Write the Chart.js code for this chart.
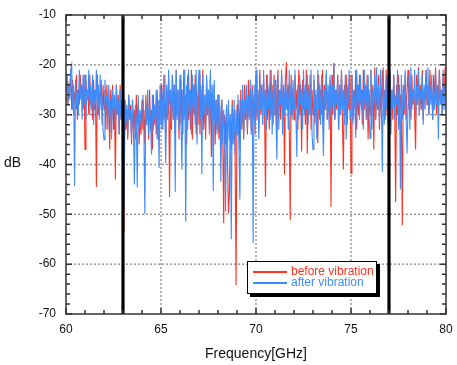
<!DOCTYPE html>
<html><head><meta charset="utf-8">
<script src="https://cdn.jsdelivr.net/npm/chart.js@4/dist/chart.umd.min.js"></script>
<style>
html,body{margin:0;padding:0;background:#fff;}
#wrap{position:relative;width:457px;height:365px;font-family:"Liberation Sans",Arial,Helvetica,sans-serif;}
canvas{position:absolute;left:0;top:0;}
.lab{position:absolute;font-size:14px;color:#111;white-space:nowrap;}
#legend{position:absolute;box-sizing:border-box;width:130px;height:33px;background:#fff;border:1px solid #000;box-shadow:3px 3px 0 #000;font-size:12px;padding:4px 0 0 5px;line-height:11px;}
#legend .row{display:flex;align-items:center;height:11px;}
#legend .sw{display:inline-block;width:34px;height:2px;margin-right:4px;}
</style></head>
<body>
<div id="wrap">
<canvas id="c" width="457" height="365"></canvas>
<div class="lab" id="ylab">dB</div>
<div class="lab" id="xlab">Frequency[GHz]</div>
<div id="legend"></div>
</div>
<script>
// ---- data ----
const freqStartGHz = 60;
const freqStepGHz = 0.05;
const seriesNames = ["before vibration", "after vibration"];
const markerFreqs = [63, 77];
const xTicks = [60, 65, 70, 75, 80];
const yTicks = [-70, -60, -50, -40, -30, -20, -10];

// dB, one row per GHz (20 samples)
const beforeVibration = [
 -27,-22,-28,-24,-25,-21,-29,-23,-30,-26, -27,-22,-31,-25,-28,-22,-26,-24,-29,-22,
 -37,-23,-27,-25,-30,-22,-28,-26,-31,-23, -29,-25,-44.5,-22,-30,-26,-27,-23,-32,-24,
 -29,-25,-33,-24,-30,-27,-37,-25,-31,-24, -33,-27,-43,-24,-30,-26,-34,-24,-31,-27,
 -30,-53.6,-27,-33,-29,-35,-26,-31,-28,-36, -27,-33,-29,-35,-26,-32,-28,-36,-30,-34,
 -27,-33,-29,-36,-26,-31,-28,-35,-25,-33, -29,-37,-26,-32,-28,-34,-25,-35,-27,-31,
 -24,-33,-26,-31,-22,-35,-25,-30,-23,-46.5, -26,-33,-22,-31,-24,-34,-21,-30,-25,-35,
 -23,-32,-25,-34,-21,-30,-26,-36,-22,-31, -25,-33,-21,-35,-24,-30,-22,-34,-26,-32,
 -22,-34,-25,-31,-21,-33,-26,-35,-23,-30, -25,-33,-22,-38.5,-26,-31,-24,-36,-27,-33,
 -26,-35,-29,-38,-27,-34,-51.8,-30,-36,-28, -39,-49.8,-45.8,-30,-37,-27,-35,-29,-38,-64.2,
 -28,-34,-27,-37,-25,-33,-27,-35,-24,-31, -26,-34,-23,-30,-25,-33,-24,-31,-26,-34,
 -22,-31,-25,-33,-21,-30,-24,-32,-23,-29, -46.5,-22,-31,-25,-33,-21,-30,-24,-32,-22,
 -30,-24,-33,-21,-29,-25,-31,-22,-30,-25, -42,-23,-19.5,-29,-24,-32,-51.2,-22,-30,-25,
 -31,-22,-29,-25,-33,-21,-30,-24,-37.4,-23, -29,-25,-32,-21,-37.8,-24,-30,-22,-33,-25,
 -30,-23,-32,-26,-29,-35.7,-22,-31,-25,-30, -21,-33,-24,-29,-22,-31,-26,-30,-23,-48.5,
 -22,-30,-19.6,-31,-25,-29,-22,-33,-24,-30, -21,-31,-41,-24,-30,-22,-32,-25,-29,-22,
 -41.8,-22,-31,-25,-29,-21,-33,-24,-30,-22, -28,-25,-32,-21,-29,-24,-31,-22,-35,-25,
 -30,-21,-29,-24,-37,-20.5,-31,-25,-29,-22, -33,-24,-30,-21,-28,-25,-31,-21,-30,-24,
 -33,-22,-29,-25,-31,-22,-28,-47.5,-24,-30, -22,-32,-26,-29,-52.2,-24,-30,-22,-31,-25,
 -21,-29,-24,-31,-22,-28,-25,-30,-37,-22, -28,-20.5,-30,-24,-29,-21,-31,-25,-27,-21,
 -28,-24,-30,-21,-27,-25,-31,-22,-28,-20.5, -30,-24,-29,-21,-27,-25,-30,-22,-28,-20.5,
 -27
];
const afterVibration = [
 -25,-22,-28,-24,-27,-21,-20,-29,-24,-44.3, -23,-29,-25,-30,-21,-27,-24,-31,-22,-28,
 -22,-31,-25,-27,-21,-30,-24,-29,-22,-32, -25,-28,-21,-30,-24,-31,-22,-29,-26,-33,
 -35,-23,-28,-26,-33,-24,-30,-27,-35,-25, -29,-26,-32,-24,-30,-27,-34,-25,-31,-28,
 -29,-49,-27,-32,-28,-34,-26,-31,-29,-35, -27,-33,-44,-28,-31,-44.6,-26,-33,-29,-32,
 -31,-26,-33,-50,-28,-32,-25,-34,-28,-31, -38,-26,-33,-28,-31,-25,-35,-27,-40.7,-24,
 -32,-25,-33,-22,-30,-39.7,-24,-31,-21,-28, -25,-32,-22,-30,-24,-45.5,-21,-31,-25,-33,
 -22,-30,-41,-25,-31,-21,-51.5,-24,-33,-21, -30,-25,-34,-22,-29,-24,-32,-21,-36,-25,
 -21,-31,-24,-41.9,-22,-30,-26,-33,-22,-29, -25,-34,-21,-31,-24,-45.3,-23,-32,-27,-34,
 -26,-33,-28,-43.5,-27,-36,-29,-34,-49.5,-28, -38,-27,-35,-30,-55,-28,-36,-27,-38,-29,
 -34,-26,-36,-47,-27,-32,-24,-35,-27,-30, -24,-33,-26,-31,-23,-34,-25,-55.8,-24,-32,
 -21,-30,-25,-35,-22,-29,-24,-32,-21,-30, -25,-33,-22,-29,-24,-31,-21,-34,-25,-30,
 -23,-31,-39,-22,-33,-25,-28,-21,-34,-24, -30,-22,-29,-25,-33,-21,-30,-24,-31,-23,
 -29,-21,-30,-38.5,-24,-31,-22,-28,-25,-33, -21,-30,-24,-29,-22,-32,-25,-30,-21,-34,
 -37,-22,-30,-25,-35,-21,-29,-24,-32,-22, -30,-38.3,-25,-29,-21,-31,-24,-33,-22,-30,
 -24,-29,-19.8,-31,-25,-28,-22,-33,-24,-30, -21,-29,-25,-32,-22,-35,-24,-28,-21,-31,
 -29,-22,-32,-25,-28,-34.7,-21,-28,-24,-31, -22,-29,-25,-33,-21,-28,-24,-31,-22,-30,
 -34.7,-21,-33,-25,-28,-22,-31,-20.5,-29,-24, -32,-21,-28,-41.5,-20.5,-32,-25,-29,-22,-31,
 -30,-21,-34,-25,-29,-22,-31,-26,-28,-21, -33,-24,-45,-22,-31,-25,-29,-21,-30,-37.8,
 -28,-22,-33,-20.5,-29,-25,-27,-21,-31,-24, -28,-21,-30,-25,-27,-22,-32,-24,-29,-21,
 -27,-20.5,-30,-24,-28,-22,-31,-25,-29,-21, -28,-24,-35,-21,-28,-25,-30,-21,-29,-24,
 -26
];

// ---- build ----
const RED = '#ff3322', BLUE = '#3f8cff';
const toXY = arr => arr.map((v, i) => ({x: +(freqStartGHz + i * freqStepGHz).toFixed(3), y: v}));
const yMin = yTicks[0], yMax = yTicks[yTicks.length - 1];
const xMin = xTicks[0], xMax = xTicks[xTicks.length - 1];

const frame = {
  id: 'frame',
  beforeDatasetsDraw(chart) {
    const {ctx, chartArea: a, scales: {x, y}} = chart;
    ctx.save();
    ctx.strokeStyle = '#9a9a9a'; ctx.lineWidth = 1.5; ctx.setLineDash([2, 2]);
    xTicks.forEach(t => { if (t > xMin && t < xMax) { const p = x.getPixelForValue(t); ctx.beginPath(); ctx.moveTo(p, a.top); ctx.lineTo(p, a.bottom); ctx.stroke(); } });
    yTicks.forEach(t => { if (t > yMin && t < yMax) { const p = y.getPixelForValue(t); ctx.beginPath(); ctx.moveTo(a.left, p); ctx.lineTo(a.right, p); ctx.stroke(); } });
    ctx.restore();
  },
  afterDraw(chart) {
    const {ctx, chartArea: a, scales: {x, y}} = chart;
    ctx.save();
    ctx.strokeStyle = '#333'; ctx.lineWidth = 1.5; ctx.setLineDash([]);
    for (let t = xMin; t <= xMax; t += 1) {
      const p = x.getPixelForValue(t); const L = (t % 5 === 0) ? 6 : 4;
      ctx.beginPath(); ctx.moveTo(p, a.top); ctx.lineTo(p, a.top + L); ctx.moveTo(p, a.bottom); ctx.lineTo(p, a.bottom - L); ctx.stroke();
    }
    for (let t = yMin; t <= yMax; t += 2) {
      const p = y.getPixelForValue(t); const L = (t % 10 === 0) ? 6 : 4;
      ctx.beginPath(); ctx.moveTo(a.left, p); ctx.lineTo(a.left + L, p); ctx.moveTo(a.right, p); ctx.lineTo(a.right - L, p); ctx.stroke();
    }
    ctx.strokeRect(a.left, a.top, a.right - a.left, a.bottom - a.top);
    ctx.restore();
  }
};

const markerSets = markerFreqs.map(f => ({
  label: 'marker ' + f, data: [{x: f, y: yMin}, {x: f, y: yMax}],
  borderColor: '#000', borderWidth: 3.2, pointRadius: 0, order: 0
}));

const chart = new Chart(document.getElementById('c'), {
  type: 'line',
  data: {
    datasets: [
      {label: seriesNames[0], data: toXY(beforeVibration), borderColor: RED, borderWidth: 1.1, pointRadius: 0, order: 2},
      {label: seriesNames[1], data: toXY(afterVibration), borderColor: BLUE, borderWidth: 1.1, pointRadius: 0, order: 1},
      ...markerSets
    ]
  },
  options: {
    responsive: false, animation: false, devicePixelRatio: 1,
    layout: {padding: {left: 0, right: 11, top: 15, bottom: 0}},
    plugins: {legend: {display: false}, tooltip: {enabled: false}},
    scales: {
      x: {
        type: 'linear', min: xMin, max: xMax,
        afterBuildTicks: s => { s.ticks = xTicks.map(v => ({value: v})); },
        afterFit: s => { s.height = 51; s.paddingLeft = 0; s.paddingRight = 0; },
        grid: {display: false, drawTicks: false}, border: {display: false},
        ticks: {padding: 8, color: '#111', font: {family: '"Liberation Sans", Arial', size: 12}, maxRotation: 0}
      },
      y: {
        type: 'linear', min: yMin, max: yMax,
        afterBuildTicks: s => { s.ticks = yTicks.map(v => ({value: v})); },
        afterFit: s => { s.width = 66; s.paddingTop = 0; s.paddingBottom = 0; },
        grid: {display: false, drawTicks: false}, border: {display: false},
        ticks: {padding: 10, color: '#111', font: {family: '"Liberation Sans", Arial', size: 12}}
      }
    }
  },
  plugins: [frame]
});

// ---- overlay labels positioned from chart area ----
const a = chart.chartArea;
const ylab = document.getElementById('ylab');
ylab.style.left = '4px';
ylab.style.top = ((a.top + a.bottom) / 2 - 11) + 'px';
const xlab = document.getElementById('xlab');
xlab.style.left = a.left + 'px'; xlab.style.width = (a.right - a.left) + 'px'; xlab.style.textAlign = 'center';
xlab.style.top = (a.bottom + 31) + 'px';
const lg = document.getElementById('legend');
lg.innerHTML = chart.data.datasets.slice(0, 2).map(d =>
  `<div class="row"><span class="sw" style="background:${d.borderColor}"></span><span style="color:${d.borderColor}">${d.label}</span></div>`).join('');
lg.style.left = '247px'; lg.style.top = '261px';
</script>
</body></html>
